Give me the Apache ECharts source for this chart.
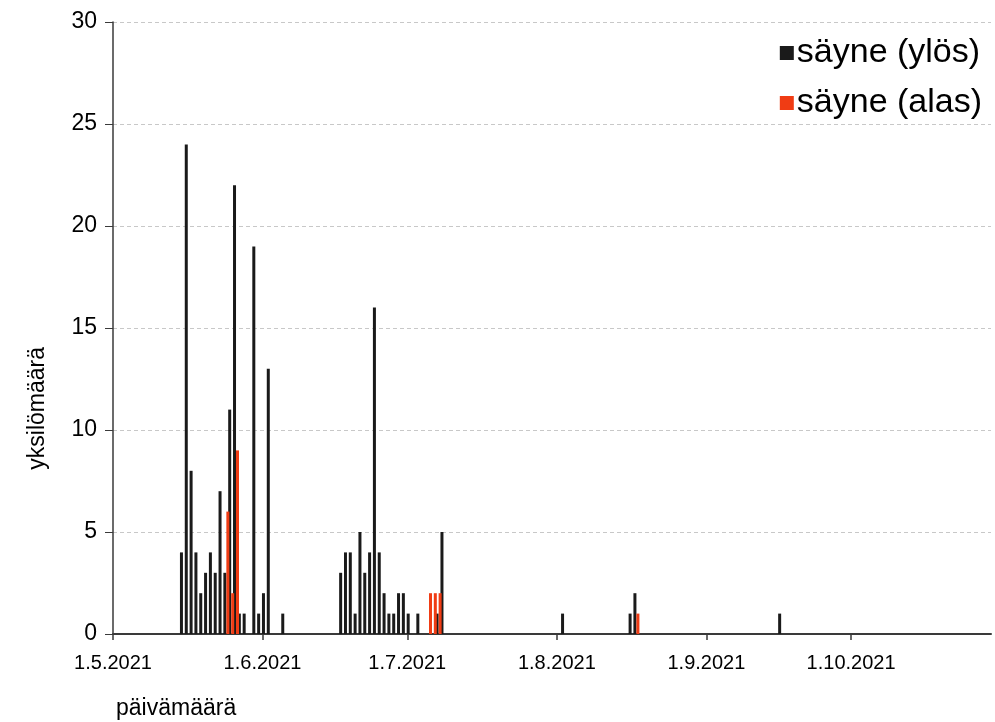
<!DOCTYPE html>
<html>
<head>
<meta charset="utf-8">
<script src="https://cdn.jsdelivr.net/npm/echarts@6/dist/echarts.min.js"></script>
<style>
  html, body { margin: 0; padding: 0; background: #fff; }
  #chart { width: 995px; height: 722px; }
</style>
</head>
<body>
<div id="chart"></div>
<script>
// Säyne counts per day, 2021 (date as "D.M")
const upDates = ['15.5','16.5','17.5','18.5','19.5','20.5','21.5','22.5','23.5','24.5','25.5','26.5','27.5','28.5',
  '30.5','31.5','1.6','2.6','5.6','17.6','18.6','19.6','20.6','21.6','22.6','23.6','24.6','25.6','26.6','27.6',
  '28.6','29.6','30.6','1.7','3.7','7.7','8.7','2.8','16.8','17.8','16.9'];
const upCounts = [4,24,8,4,2,3,4,3,7,3,11,22,1,1,
  19,1,2,13,1,3,4,4,1,5,3,4,16,4,2,1,
  1,2,2,1,1,1,5,1,1,2,1];

const downDates = ['24.5','25.5','26.5','5.7','6.7','7.7','17.8'];
const downCounts = [6,2,9,2,2,2,1];

const seriesNames = ['säyne (ylös)', 'säyne (alas)'];
const monthTicks = ['1.5','1.6','1.7','1.8','1.9','1.10'];
const axisEnd = '30.10';
const YEAR = 2021;

// x is measured in days from 1.5.2021
const DAY = 86400000;
const origin = Date.UTC(YEAR, 4, 1);
function dayIndex(dm) {
  const [d, m] = dm.split('.').map(Number);
  return Math.round((Date.UTC(YEAR, m - 1, d) - origin) / DAY);
}
function dayLabel(x) {
  const t = new Date(origin + Math.round(x) * DAY);
  return t.getUTCDate() + '.' + (t.getUTCMonth() + 1) + '.' + t.getUTCFullYear();
}
// bars sit in the middle of their day
const upData = upDates.map((d, i) => [dayIndex(d) + 0.5, upCounts[i]]);
const downData = downDates.map((d, i) => [dayIndex(d) + 0.5, downCounts[i]]);
const tickValues = monthTicks.map(dayIndex);

const chart = echarts.init(document.getElementById('chart'), null, { renderer: 'canvas' });
const font = 'Liberation Sans, Arial, sans-serif';

chart.setOption({
  animation: false,
  backgroundColor: '#ffffff',
  grid: { left: 113, right: 4, top: 22, bottom: 88, containLabel: false, outerBoundsMode: 'none' },
  legend: {
    orient: 'vertical',
    right: 8,
    top: 31,
    icon: 'rect',
    itemWidth: 14,
    itemHeight: 14,
    itemGap: 16,
    textStyle: { fontFamily: font, fontSize: 34, color: '#000', padding: [0, 0, 0, -2] },
    data: seriesNames
  },
  xAxis: {
    type: 'value',
    min: 0,
    max: dayIndex(axisEnd),
    axisLine: { onZero: false, lineStyle: { color: '#3a3a3a', width: 2 } },
    axisTick: { show: true, length: 6, lineStyle: { color: '#3a3a3a', width: 1.5 }, customValues: tickValues },
    axisLabel: {
      customValues: tickValues,
      fontFamily: font, fontSize: 20, color: '#000', margin: 19,
      formatter: v => dayLabel(v)
    },
    splitLine: { show: false }
  },
  yAxis: {
    type: 'value',
    min: 0, max: 30, interval: 5,
    axisLine: { show: true, lineStyle: { color: '#3a3a3a', width: 1.5 } },
    axisTick: { show: true, length: 8, lineStyle: { color: '#3a3a3a', width: 1 } },
    axisLabel: { fontFamily: font, fontSize: 23, color: '#000', margin: 16 },
    splitLine: { show: true, lineStyle: { color: '#c8c8c8', type: [4, 3], width: 1 } }
  },
  graphic: [
    { type: 'text', left: 26, top: 347, rotation: Math.PI / 2,
      style: { text: 'yksilömäärä', font: '23px ' + font, fill: '#000' } },
    { type: 'text', left: 116, top: 697,
      style: { text: 'päivämäärä', font: '23px ' + font, fill: '#000' } }
  ],
  series: [
    { name: seriesNames[0], type: 'bar', data: upData, barWidth: 3, barGap: '0%',
      itemStyle: { color: '#1a1a1a' } },
    { name: seriesNames[1], type: 'bar', data: downData, barWidth: 3, barGap: '0%',
      itemStyle: { color: '#f03c14' } }
  ]
});
</script>
</body>
</html>
